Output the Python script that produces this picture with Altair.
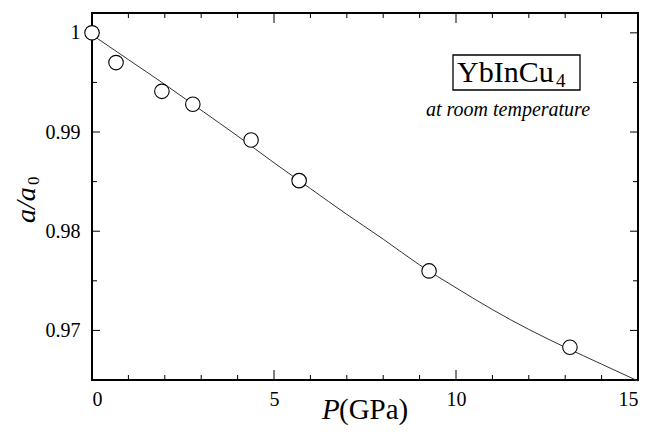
import altair as alt
import pandas as pd

# measured data points
P_data = [0.0, 0.66, 1.92, 2.77, 4.37, 5.69, 9.26, 13.13]
a_data = [1.0, 0.9970, 0.9941, 0.9928, 0.9892, 0.9851, 0.9760, 0.9683]

# fitted curve
P_fit = [0, 1, 2, 3, 4, 5, 6, 7, 8, 9, 10, 11, 12, 13, 14, 15]
a_fit = [0.9998, 0.9973, 0.9948, 0.9922, 0.9896, 0.9869, 0.9843, 0.9817,
         0.9792, 0.9766, 0.9743, 0.9721, 0.9701, 0.9683, 0.9666, 0.9649]

x_major = [0, 5, 10, 15]
x_minor = [1, 2, 3, 4, 6, 7, 8, 9, 11, 12, 13, 14]
y_major = [0.97, 0.98, 0.99, 1.0]
y_minor = [0.975, 0.985, 0.995]

W, H = 546, 367
SERIF = "Liberation Serif"

xs = alt.Scale(domain=[0, 15], nice=False, zero=False)
ys = alt.Scale(domain=[0.965, 1.002], nice=False, zero=False)

xaxis = alt.Axis(values=x_major, ticks=False, domain=False, grid=False, title=None,
                 labelFont=SERIF, labelFontSize=20, labelPadding=9, labelColor="black")
yaxis = alt.Axis(values=y_major, ticks=False, domain=False, grid=False, title=None, format="~g",
                 labelFont=SERIF, labelFontSize=20, labelPadding=12, labelColor="black")

pts = pd.DataFrame({"P": P_data, "a": a_data})
fit = pd.DataFrame({"P": P_fit, "a": a_fit})

line = alt.Chart(fit).mark_line(color="#333", strokeWidth=1, interpolate="monotone").encode(
    x=alt.X("P:Q", scale=xs, axis=xaxis),
    y=alt.Y("a:Q", scale=ys, axis=yaxis),
)
points = alt.Chart(pts).mark_point(shape="circle", filled=True, fill="white", stroke="black",
                                   strokeWidth=1.1, size=210, opacity=1).encode(
    x=alt.X("P:Q", scale=xs),
    y=alt.Y("a:Q", scale=ys),
)

def xticks(vals, L):
    df = pd.DataFrame({"v": vals})
    b = alt.Chart(df).mark_rule(color="black", strokeWidth=1).encode(
        x=alt.X("v:Q", scale=xs), y=alt.value(H), y2=alt.value(H - L))
    t = alt.Chart(df).mark_rule(color="black", strokeWidth=1).encode(
        x=alt.X("v:Q", scale=xs), y=alt.value(0), y2=alt.value(L))
    return [b, t]

def yticks(vals, L):
    df = pd.DataFrame({"v": vals})
    l = alt.Chart(df).mark_rule(color="black", strokeWidth=1).encode(
        y=alt.Y("v:Q", scale=ys), x=alt.value(0), x2=alt.value(L))
    r = alt.Chart(df).mark_rule(color="black", strokeWidth=1).encode(
        y=alt.Y("v:Q", scale=ys), x=alt.value(W), x2=alt.value(W - L))
    return [l, r]

ticks = xticks(x_major, 10) + xticks(x_minor, 5) + yticks(y_major, 8) + yticks(y_minor, 5)

one = pd.DataFrame({"k": [0]})

def txt(s, x, y, size, style="normal", angle=0, align="left", baseline="alphabetic"):
    return alt.Chart(one).mark_text(text=s, font=SERIF, fontSize=size, fontStyle=style,
                                    angle=angle, align=align, baseline=baseline,
                                    color="black").encode(x=alt.value(x), y=alt.value(y))

labels = [
    txt("P", 230, 406, 29, "italic"),
    txt("(GPa)", 247, 406, 29),
    txt("a/a", 35 - 92, 223 - 13, 28, "italic", angle=270),
    txt("0", 39 - 92, 185 - 13, 17, angle=270),
    txt("YbInCu", 365, 69, 30),
    txt("4", 464, 74, 19),
    txt("at room temperature", 416, 103, 20, "italic", align="center"),
]

box = alt.Chart(one).mark_rect(fill=None, stroke="black", strokeWidth=1.3).encode(
    x=alt.value(361), x2=alt.value(488), y=alt.value(42), y2=alt.value(77))

chart = alt.layer(line, *ticks, points, box, *labels).properties(
    width=W, height=H,
    autosize=alt.AutoSizeParams(type="none"),
    padding={"left": 84, "top": 5, "right": 4, "bottom": 48},
).configure(background="white").configure_view(stroke="black", strokeWidth=2)

chart.save("out.html", embed_options={"renderer": "svg", "actions": False})
